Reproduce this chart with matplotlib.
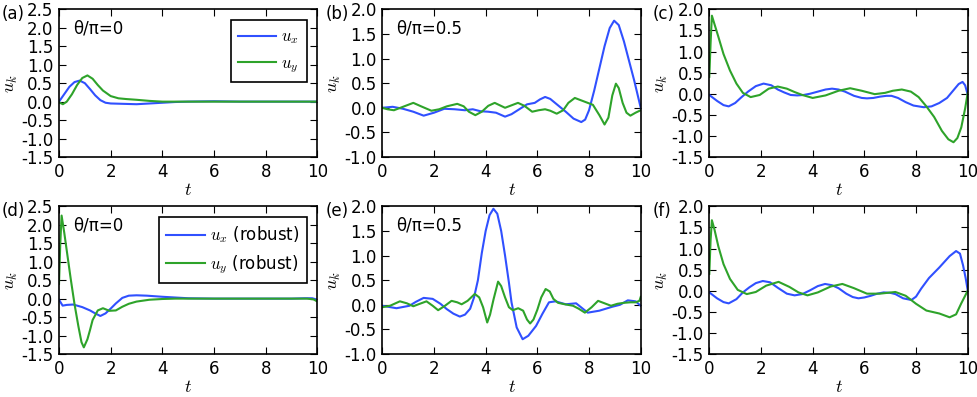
import matplotlib
matplotlib.use("Agg")
import matplotlib.pyplot as plt
from matplotlib.ticker import MultipleLocator, FormatStrFormatter

# panel (a): theta/pi = 0
ta_x = [0, 0.2, 0.4, 0.6, 0.8, 1.0, 1.2, 1.4, 1.6, 1.8, 2.0, 2.5, 3.0, 3.5, 4.0, 4.5, 5.0, 6.0, 7.0, 8.0, 9.0, 10]
ua_x = [0.0, 0.2, 0.4, 0.53, 0.57, 0.5, 0.34, 0.17, 0.04, -0.03, -0.05, -0.06, -0.07, -0.05, -0.03, -0.01, 0.0, 0.01, 0.0, 0.0, 0.0, 0.0]
ta_y = [0, 0.15, 0.3, 0.5, 0.7, 0.9, 1.1, 1.3, 1.5, 1.7, 2.0, 2.3, 2.6, 3.0, 3.5, 4.0, 5.0, 6.0, 7.0, 8.0, 9.0, 10]
ua_y = [-0.02, -0.07, 0.0, 0.2, 0.45, 0.64, 0.71, 0.62, 0.45, 0.3, 0.15, 0.09, 0.07, 0.05, 0.02, 0.0, 0.0, 0.0, 0.0, 0.0, 0.0, 0.0]

# panel (b): theta/pi = 0.5
tb_x = [0, 0.4, 0.8, 1.2, 1.6, 2.0, 2.4, 2.8, 3.2, 3.5, 3.8, 4.1, 4.4, 4.75, 5.0, 5.3, 5.6, 5.9, 6.1, 6.3,
        6.5, 6.8, 7.1, 7.4, 7.7, 7.85, 8.0, 8.2, 8.4, 8.6, 8.8, 8.97, 9.15, 9.35, 9.55, 9.75, 10]
ub_x = [0.0, 0.02, -0.02, -0.08, -0.16, -0.1, -0.02, -0.03, -0.05, -0.03, -0.07, -0.08, -0.1, -0.18, -0.13, -0.03,
        0.07, 0.1, 0.17, 0.22, 0.18, 0.05, -0.08, -0.22, -0.29, -0.24, -0.05, 0.35, 0.8, 1.25, 1.62, 1.77, 1.68,
        1.35, 0.95, 0.55, 0.0]
tb_y = [0, 0.2, 0.45, 0.8, 1.2, 1.5, 1.9, 2.2, 2.5, 2.9, 3.15, 3.35, 3.6, 3.85, 4.1, 4.35, 4.55, 4.75, 5.0,
        5.25, 5.5, 5.8, 6.05, 6.3, 6.5, 6.75, 7.0, 7.2, 7.45, 7.7, 7.95, 8.15, 8.4, 8.6, 8.75, 8.9, 9.04, 9.15,
        9.3, 9.45, 9.6, 9.8, 10]
ub_y = [0.0, -0.03, -0.05, 0.02, 0.1, 0.03, -0.06, -0.03, 0.03, 0.08, 0.03, -0.08, -0.15, -0.08, 0.04, 0.1,
        0.05, 0.0, 0.05, 0.1, 0.04, -0.08, -0.05, -0.03, -0.06, -0.12, -0.05, 0.1, 0.2, 0.15, 0.1, 0.06, -0.15,
        -0.34, -0.2, 0.25, 0.49, 0.4, 0.1, -0.1, -0.16, -0.1, -0.05]

# panel (c)
tc_x = [0, 0.3, 0.55, 0.75, 1.0, 1.25, 1.5, 1.8, 2.1, 2.4, 2.65, 2.9, 3.15, 3.4, 3.65, 3.9, 4.2, 4.5, 4.75,
        5.0, 5.25, 5.6, 5.9, 6.1, 6.35, 6.6, 6.85, 7.05, 7.3, 7.6, 7.9, 8.3, 8.6, 8.9, 9.2, 9.5, 9.65, 9.8, 9.9, 10]
uc_x = [-0.03, -0.17, -0.27, -0.3, -0.22, -0.08, 0.05, 0.18, 0.24, 0.2, 0.1, 0.03, -0.03, -0.04, -0.03, 0.0,
        0.05, 0.1, 0.12, 0.1, 0.05, -0.05, -0.1, -0.11, -0.1, -0.07, -0.05, -0.05, -0.1, -0.2, -0.28, -0.32,
        -0.3, -0.22, -0.1, 0.12, 0.23, 0.28, 0.2, -0.02]
tc_y = [0, 0.05, 0.1, 0.2, 0.35, 0.55, 0.8, 1.05, 1.3, 1.6, 1.95, 2.3, 2.65, 3.0, 3.3, 3.6, 4.0, 4.5, 5.0,
        5.45, 5.9, 6.4, 6.8, 7.1, 7.45, 7.8, 8.1, 8.4, 8.7, 9.0, 9.25, 9.45, 9.6, 9.75, 9.9, 10]
uc_y = [0.4, 1.2, 1.85, 1.65, 1.35, 0.94, 0.55, 0.24, 0.02, -0.08, -0.03, 0.12, 0.17, 0.12, 0.04, -0.03, -0.1,
        -0.04, 0.07, 0.13, 0.07, -0.01, 0.02, 0.07, 0.1, 0.05, -0.08, -0.3, -0.55, -0.88, -1.08, -1.15, -1.05,
        -0.8, -0.35, 0.02]

# panel (d): theta/pi = 0, robust
td_x = [0, 0.14, 0.3, 0.55, 0.9, 1.2, 1.4, 1.6, 1.8, 2.0, 2.2, 2.45, 2.7, 3.0, 3.4, 4.0, 4.5, 5.0, 6.0, 7.0,
        8.0, 9.0, 9.5, 9.8, 10]
ud_x = [-0.03, -0.19, -0.17, -0.16, -0.23, -0.32, -0.4, -0.47, -0.4, -0.27, -0.13, 0.02, 0.08, 0.09, 0.08,
        0.05, 0.03, 0.01, 0.0, 0.0, 0.0, 0.0, 0.01, 0.01, -0.03]
td_y = [0, 0.05, 0.1, 0.2, 0.3, 0.45, 0.6, 0.75, 0.87, 0.96, 1.1, 1.2, 1.3, 1.5, 1.7, 1.95, 2.2, 2.45, 2.7,
        3.0, 3.5, 4.0, 4.5, 5.0, 6.0, 7.0, 8.0, 9.0, 9.6, 9.85, 10]
ud_y = [0.4, 1.5, 2.25, 1.8, 1.3, 0.55, -0.15, -0.75, -1.18, -1.32, -1.1, -0.85, -0.58, -0.32, -0.26, -0.33,
        -0.32, -0.22, -0.14, -0.08, -0.03, -0.01, 0.0, 0.0, 0.0, 0.0, 0.0, 0.0, 0.0, -0.02, -0.08]

# panel (e): theta/pi = 0.5, robust
te_x = [0, 0.55, 1.05, 1.3, 1.6, 1.95, 2.25, 2.5, 2.75, 3.0, 3.2, 3.4, 3.55, 3.7, 3.85, 4.0, 4.15, 4.3, 4.45,
        4.6, 4.75, 4.9, 5.0, 5.2, 5.43, 5.65, 5.95, 6.2, 6.45, 6.7, 7.1, 7.5, 7.95, 8.4, 8.9, 9.2, 9.5, 9.8, 10]
ue_x = [-0.02, -0.07, -0.02, 0.06, 0.14, 0.12, 0.02, -0.09, -0.18, -0.24, -0.2, -0.08, 0.15, 0.5, 1.05, 1.5,
        1.82, 1.95, 1.85, 1.5, 1.0, 0.45, 0.05, -0.46, -0.7, -0.63, -0.43, -0.18, 0.05, 0.07, 0.01, 0.03, -0.16,
        -0.12, -0.04, 0.0, 0.09, 0.07, -0.02]
te_y = [0, 0.3, 0.68, 0.95, 1.2, 1.45, 1.71, 1.95, 2.16, 2.4, 2.68, 2.9, 3.07, 3.3, 3.58, 3.75, 3.9, 4.06,
        4.17, 4.3, 4.48, 4.6, 4.75, 4.9, 5.05, 5.26, 5.45, 5.6, 5.72, 5.85, 6.0, 6.15, 6.32, 6.48, 6.62, 6.8,
        7.06, 7.38, 7.6, 7.84, 8.1, 8.35, 8.6, 8.85, 9.1, 9.35, 9.6, 9.8, 9.95, 10]
ue_y = [-0.05, -0.02, 0.07, 0.03, -0.03, 0.02, 0.07, -0.02, -0.11, -0.03, 0.08, 0.05, 0.01, 0.08, 0.22, 0.15,
        -0.05, -0.36, -0.2, 0.1, 0.47, 0.38, 0.15, -0.05, -0.11, -0.07, -0.12, -0.3, -0.38, -0.3, -0.1, 0.15,
        0.32, 0.27, 0.12, 0.04, 0.01, -0.02, -0.08, -0.16, -0.05, 0.08, 0.03, -0.02, 0.02, 0.04, 0.05, 0.05,
        0.08, 0.16]

# panel (f)
tf_x = [0, 0.3, 0.55, 0.75, 1.05, 1.3, 1.55, 1.8, 2.07, 2.35, 2.65, 3.0, 3.3, 3.6, 3.9, 4.2, 4.48, 4.75, 5.0,
        5.3, 5.55, 5.77, 6.0, 6.25, 6.5, 6.75, 7.0, 7.2, 7.5, 7.82, 8.0, 8.2, 8.5, 8.9, 9.3, 9.55, 9.7, 9.82,
        9.92, 10]
uf_x = [-0.04, -0.18, -0.27, -0.3, -0.2, -0.04, 0.08, 0.18, 0.23, 0.2, 0.07, -0.07, -0.11, -0.08, 0.01, 0.11,
        0.16, 0.13, 0.06, -0.07, -0.15, -0.18, -0.16, -0.12, -0.07, -0.04, -0.05, -0.08, -0.18, -0.22, -0.14,
        0.05, 0.3, 0.55, 0.82, 0.94, 0.88, 0.6, 0.3, 0.01]
tf_y = [0, 0.05, 0.1, 0.2, 0.35, 0.55, 0.8, 1.1, 1.45, 1.8, 2.2, 2.68, 3.1, 3.45, 3.8, 4.2, 4.7, 5.15, 5.6,
        6.1, 6.6, 7.2, 7.6, 8.0, 8.4, 8.9, 9.3, 9.55, 9.75, 9.9, 10]
uf_y = [0.4, 1.2, 1.67, 1.45, 1.05, 0.63, 0.28, 0.02, -0.08, -0.03, 0.12, 0.21, 0.09, -0.04, -0.11, -0.04,
        0.1, 0.16, 0.06, -0.07, -0.07, -0.03, -0.12, -0.31, -0.47, -0.54, -0.63, -0.56, -0.3, -0.12, 0.0]

panel_tags = ["(a)", "(b)", "(c)", "(d)", "(e)", "(f)"]
theta_labels = ["θ/π=0", "θ/π=0.5", None, "θ/π=0", "θ/π=0.5", None]
ylims = [(-1.5, 2.5), (-1.0, 2.0), (-1.5, 2.0), (-1.5, 2.5), (-1.0, 2.0), (-1.5, 2.0)]
xticks = [0, 2, 4, 6, 8, 10]

plt.rcParams["font.size"] = 12
plt.rcParams["mathtext.fontset"] = "cm"
plt.rcParams["xtick.direction"] = "in"
plt.rcParams["ytick.direction"] = "in"
plt.rcParams["xtick.top"] = True
plt.rcParams["ytick.right"] = True
plt.rcParams["xtick.major.size"] = 5
plt.rcParams["ytick.major.size"] = 5
plt.rcParams["xtick.major.pad"] = 4.5
plt.rcParams["ytick.major.pad"] = 4
plt.rcParams["axes.linewidth"] = 1.2

blue = "#3050ff"
green = "#2ea32a"

fig = plt.figure(figsize=(9.77, 3.97), dpi=100)

lefts = [0.0604, 0.3913, 0.726]
bottoms = [0.6045, 0.1083]
w, h = 0.2645, 0.372

series = [(ta_x, ua_x, ta_y, ua_y), (tb_x, ub_x, tb_y, ub_y), (tc_x, uc_x, tc_y, uc_y),
          (td_x, ud_x, td_y, ud_y), (te_x, ue_x, te_y, ue_y), (tf_x, uf_x, tf_y, uf_y)]

for i, (tx, ux, ty, uy) in enumerate(series):
    row, col = divmod(i, 3)
    ax = fig.add_axes([lefts[col], bottoms[row], w, h])
    robust = " (robust)" if row == 1 else ""
    ax.plot(tx, ux, color=blue, lw=1.5, label="$u_x$" + robust)
    ax.plot(ty, uy, color=green, lw=1.5, label="$u_y$" + robust)
    ax.set_xlim(0, 10)
    ax.set_ylim(*ylims[i])
    ax.set_xticks(xticks)
    ax.yaxis.set_major_locator(MultipleLocator(0.5))
    ax.yaxis.set_major_formatter(FormatStrFormatter("%.1f"))
    ax.set_xlabel("$t$", fontsize=13, labelpad=0)
    ax.set_ylabel("$u_k$", fontsize=13, labelpad=1)
    if theta_labels[i]:
        ax.text(0.055, 0.87, theta_labels[i], transform=ax.transAxes, va="center", ha="left")
    if col == 0:
        leg = ax.legend(loc="upper right", fancybox=False, framealpha=1, edgecolor="black",
                        handlelength=2.3, handletextpad=0.3, labelspacing=0.45, borderaxespad=0.65,
                        borderpad=0.45)
        leg.get_frame().set_linewidth(1.2)
    fig.text(lefts[col] - 0.0585, bottoms[row] + h + 0.012, panel_tags[i], va="top", ha="left")

fig.savefig("out.png", dpi=100)
